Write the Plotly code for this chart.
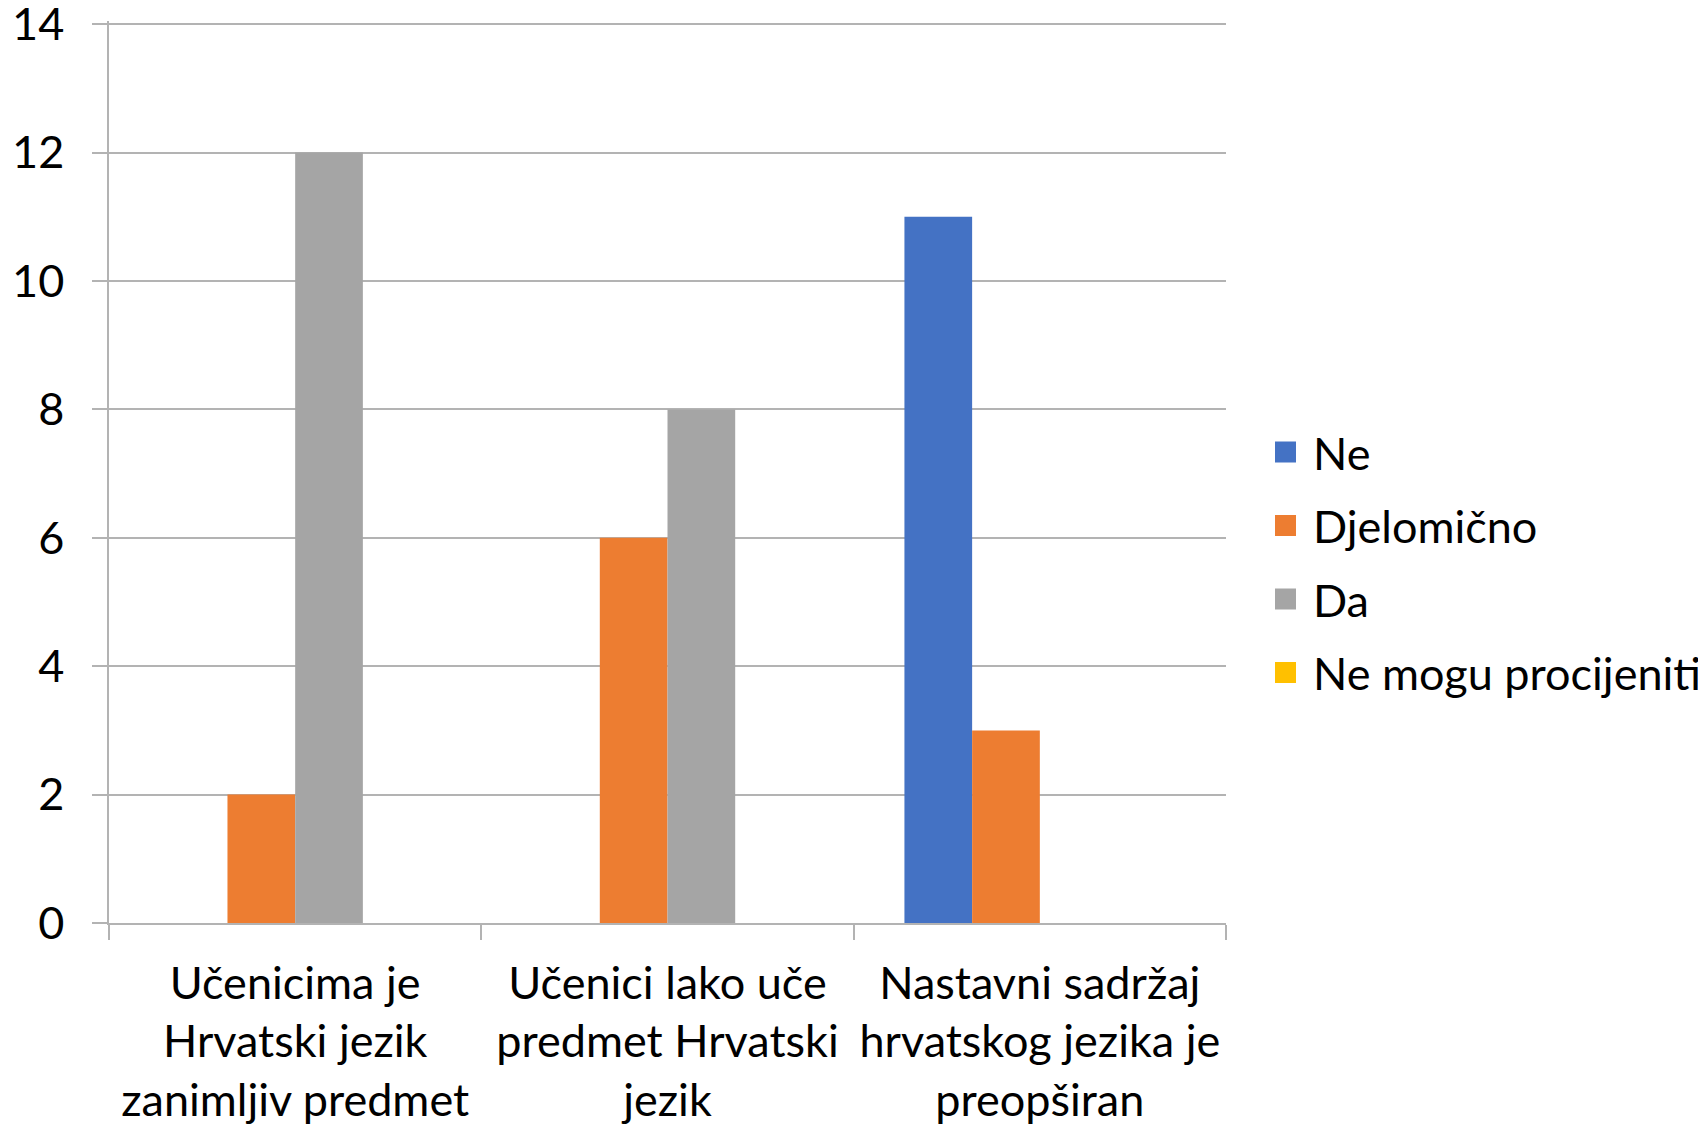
import plotly.graph_objects as go

categories = [
    "Učenicima je<br>Hrvatski jezik<br>zanimljiv predmet",
    "Učenici lako uče<br>predmet Hrvatski<br>jezik",
    "Nastavni sadržaj<br>hrvatskog jezika je<br>preopširan",
]
series_names = ["Ne", "Djelomično", "Da", "Ne mogu procijeniti"]
ne = [0, 0, 11]
djelomicno = [2, 6, 3]
da = [12, 8, 0]
ne_mogu = [0, 0, 0]
colors = ["#4472C4", "#ED7D31", "#A5A5A5", "#FFC000"]
y_ticks = [0, 2, 4, 6, 8, 10, 12, 14]

FONT = "Lato"
FS = 45

fig = go.Figure()
for name, vals, col in zip(series_names, [ne, djelomicno, da, ne_mogu], colors):
    fig.add_trace(go.Bar(x=categories, y=vals, name=name, marker=dict(color=col, line=dict(width=0)),
                         showlegend=False))
for name, col in zip(series_names, colors):
    # legend entry with a larger square swatch (on a hidden overlay axis)
    fig.add_trace(go.Scatter(x=[None], y=[None], name=name, mode="markers", legendgroup=name,
                             xaxis="x2", yaxis="y2",
                             marker=dict(symbol="square", color=col, size=16,
                                         line=dict(color=col, width=5))))

grid = "#B3B3B3"
fig.update_layout(
    width=1706, height=1125,
    margin=dict(l=101, r=488, t=13, b=210, autoexpand=False),
    paper_bgcolor="white", plot_bgcolor="white",
    barmode="group", bargap=0.2727, bargroupgap=0,
    font=dict(family=FONT, size=FS, color="black"),
    legend=dict(xref="container", x=0.7327, xanchor="left", y=0.4, yanchor="middle",
                font=dict(family=FONT, size=FS, color="black"),
                bgcolor="rgba(0,0,0,0)", itemclick=False, itemwidth=45,
                tracegroupgap=12),
    xaxis2=dict(overlaying="x", visible=False, range=[0, 1]),
    yaxis2=dict(overlaying="y", visible=False, range=[0, 1]),
    yaxis=dict(range=[0, 14.05], tickvals=y_ticks, showgrid=True, gridcolor=grid, gridwidth=1.5,
               showline=True, linecolor=grid, linewidth=1.5, ticks="outside", ticklen=15,
               tickcolor=grid, tickwidth=1.5, zeroline=False, ticklabelstandoff=19,
               ticklabeloverflow="allow",
               automargin=False, tickfont=dict(family=FONT, size=FS, color="black")),
    xaxis=dict(showline=True, linecolor=grid, linewidth=1.5, ticks="outside", ticklen=15,
               tickcolor=grid, tickwidth=1.5, tickson="boundaries", ticklabelstandoff=20,
               tickangle=0, automargin=False, showgrid=False, ticklabeloverflow="allow",
               tickfont=dict(family=FONT, size=FS, color="black")),
)

fig.write_html("out.html")
